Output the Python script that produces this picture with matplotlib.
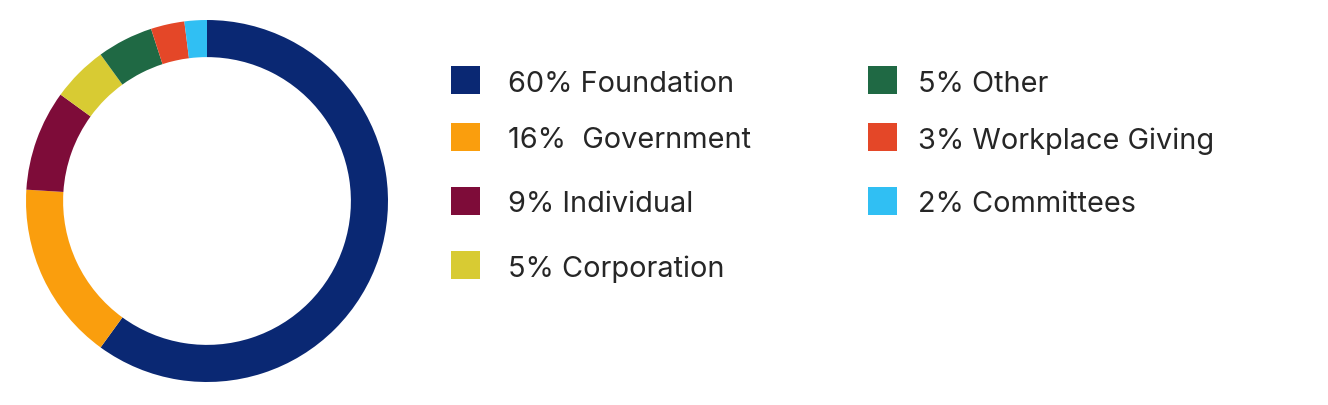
import matplotlib.pyplot as plt
from matplotlib.patches import Rectangle

plt.rcParams['font.family'] = ['Inter', 'DejaVu Sans']

# Data
categories = ["Foundation", "Government", "Individual", "Corporation",
              "Other", "Workplace Giving", "Committees"]
shares = [60, 16, 9, 5, 5, 3, 2]
labels = ["60% Foundation", "16%  Government", "9% Individual", "5% Corporation",
          "5% Other", "3% Workplace Giving", "2% Committees"]
colors = ["#0A2873", "#FA9E0D", "#7E0C39", "#D8CB33",
          "#1F6944", "#E44728", "#30BFF3"]

W, H = 1328, 406
fig = plt.figure(figsize=(W / 100, H / 100), dpi=100)

# Donut
ax = fig.add_axes([26 / W, 23 / H, 362 / W, 362 / H])
ax.pie(shares, colors=colors, startangle=90, counterclock=False, radius=1,
       wedgeprops=dict(width=0.205, edgecolor="none", linewidth=0))
ax.set_xlim(-1, 1)
ax.set_ylim(-1, 1)
ax.set_aspect("equal")
ax.axis("off")

# Legend in pixel coordinates
lg = fig.add_axes([0, 0, 1, 1])
lg.set_xlim(0, W)
lg.set_ylim(H, 0)
lg.axis("off")

col_x = [451, 868]
text_x = [508, 918]
row_y = [81, 138, 202, 266]
for i, (lab, c) in enumerate(zip(labels, colors)):
    col = 0 if i < 4 else 1
    row = i if i < 4 else i - 4
    y = row_y[row]
    lg.add_patch(Rectangle((col_x[col], y - 14), 29, 28, color=c, lw=0))
    lg.text(text_x[col], y, lab, fontsize=20.8, color="#262626",
            va="center_baseline", ha="left")

fig.savefig("out.png", dpi=100)
